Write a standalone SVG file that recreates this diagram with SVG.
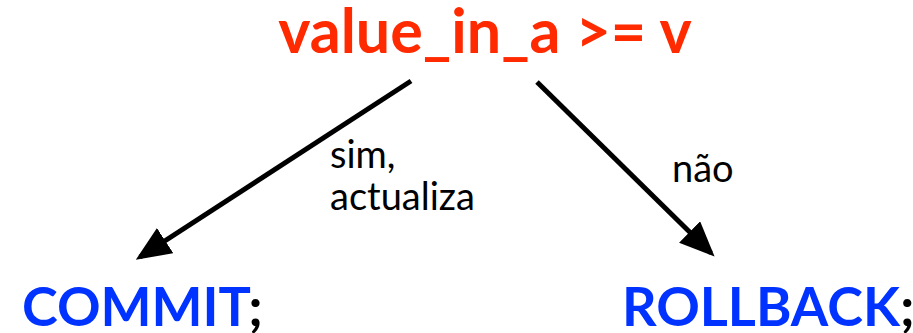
<svg xmlns="http://www.w3.org/2000/svg" width="913" height="333" viewBox="0 0 913 333">
<style>
.b{font-family:Lato,"Open Sans","Liberation Sans",sans-serif;font-weight:bold}
.r{font-family:Lato,"Open Sans","Liberation Sans",sans-serif;font-size:38px;fill:#000}
.c{stroke:#000;stroke-width:5;fill:none}
</style>
<defs>
<marker id="ah" markerWidth="7" markerHeight="6" refX="6" refY="3" orient="auto" markerUnits="strokeWidth">
<path d="M0,0 L7,3 L0,6 z" fill="#000"/>
</marker>
</defs>
<rect width="913" height="333" fill="#fff"/>
<g id="cond"><text class="b" x="485" y="53" font-size="61" fill="#FF2A00" text-anchor="middle">value_in_a &gt;= v</text></g>
<g id="commit"><text class="b" x="22" y="326" font-size="54" fill="#0033FF">COMMIT<tspan fill="#000">;</tspan></text></g>
<g id="rollback"><text class="b" x="622" y="326" font-size="54" fill="#0033FF">ROLLBACK<tspan fill="#000">;</tspan></text></g>
<g id="connectors">
<line class="c" x1="411" y1="81" x2="140" y2="257" marker-end="url(#ah)"/>
<line class="c" x1="537" y1="82" x2="711" y2="253" marker-end="url(#ah)"/>
<text class="r" x="330" y="168">sim,</text>
<text class="r" x="330" y="210">actualiza</text>
<text class="r" x="672" y="182">não</text>
</g>
</svg>
